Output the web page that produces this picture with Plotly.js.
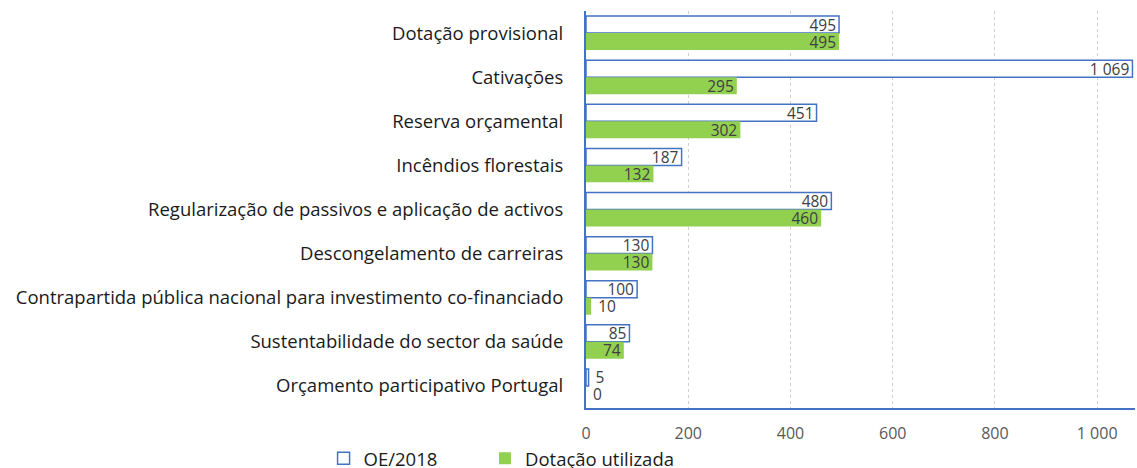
<!DOCTYPE html>
<html><head><meta charset="utf-8">
<script src="https://cdn.plot.ly/plotly-3.0.1.min.js"></script>
<style>html,body{margin:0;padding:0;background:#fff}#c{width:1137px;height:468px}</style>
</head><body><div id="c"></div>
<script>
const categories = [
  "Dotação provisional",
  "Cativações",
  "Reserva orçamental",
  "Incêndios florestais",
  "Regularização de passivos e aplicação de activos",
  "Descongelamento de carreiras",
  "Contrapartida pública nacional para investimento co-financiado",
  "Sustentabilidade do sector da saúde",
  "Orçamento participativo Portugal"
];
const oe2018 = [495, 1069, 451, 187, 480, 130, 100, 85, 5];
const dotacaoUtilizada = [495, 295, 302, 132, 460, 130, 10, 74, 0];
const seriesNames = ["OE/2018", "Dotação utilizada"];
const tickValues = [0, 200, 400, 600, 800, 1000];

const FONT = "Open Sans, Liberation Sans, sans-serif";
const txtFont = {family: FONT, size: 15.5, color: "#404040"};
const isSmall = v => v < 30;
function barTrace(name, vals, marker, legendId) {
  return {type: "bar", orientation: "h", name: name, y: categories, x: vals, marker: marker,
    legend: legendId,
    texttemplate: vals.map(v => isSmall(v) ? " %{x:,}" : "%{x:,}"),
    textposition: vals.map(v => isSmall(v) ? "outside" : "inside"),
    insidetextanchor: "end", textangle: 0, constraintext: "none",
    textfont: txtFont, insidetextfont: txtFont, outsidetextfont: txtFont, cliponaxis: false};
}
const traces = [
  barTrace(seriesNames[0], oe2018, {color: "#ffffff", line: {color: "#4472C4", width: 1.5}}, "legend"),
  barTrace(seriesNames[1], dotacaoUtilizada, {color: "#92D050", line: {width: 0}}, "legend2")
];
const legFont = {size: 18.5, color: "#1a1a1a"};
const layout = {
  width: 1137, height: 468,
  margin: {l: 586, r: 2, t: 11, b: 60, autoexpand: false},
  separators: ", ",
  barmode: "group", bargap: 0.23, bargroupgap: 0,
  paper_bgcolor: "#fff", plot_bgcolor: "#fff",
  font: {family: FONT, color: "#404040"},
  xaxis: {range: [0, 1074], tickvals: tickValues, tickformat: ",",
          showgrid: true, gridcolor: "#cfcfcf", griddash: "dot", gridwidth: 1,
          showline: true, linecolor: "#4472C4", linewidth: 2, zeroline: false,
          ticks: "", ticklen: 0, ticklabelstandoff: 10, tickfont: {size: 16, color: "#595959"}},
  yaxis: {autorange: "reversed", showline: true, linecolor: "#4472C4", linewidth: 2,
          showgrid: false, ticks: "", ticklabelstandoff: 17,
          tickfont: {size: 18.5, color: "#1a1a1a"}},
  legend: {orientation: "h", x: -0.478, xanchor: "left", y: -0.08, yanchor: "top",
           font: legFont, itemwidth: 30},
  legend2: {orientation: "h", x: -0.184, xanchor: "left", y: -0.08, yanchor: "top",
           font: legFont, itemwidth: 30},
  showlegend: true
};
Plotly.newPlot("c", traces, layout, {staticPlot: true});
</script></body></html>
